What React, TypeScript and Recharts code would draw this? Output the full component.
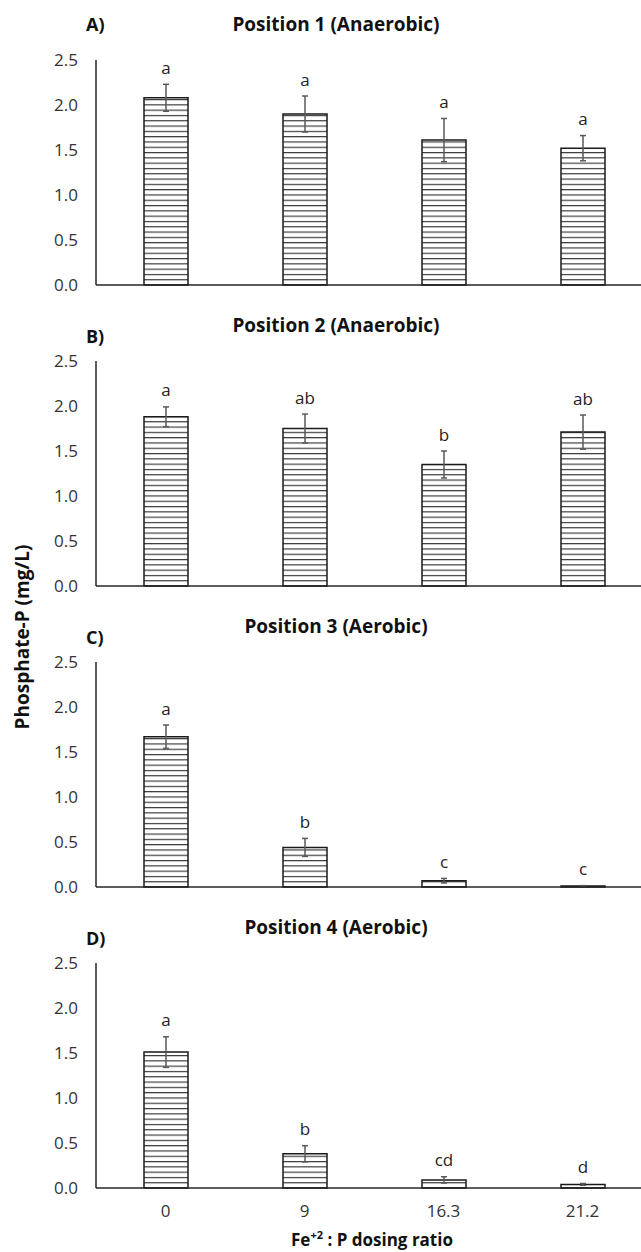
import { BarChart, Bar, XAxis, YAxis, ErrorBar, LabelList } from "recharts"

const categories = ["0", "9", "16.3", "21.2"]
const panelTitles = [
  "Position 1 (Anaerobic)",
  "Position 2 (Anaerobic)",
  "Position 3 (Aerobic)",
  "Position 4 (Aerobic)",
]
const panelLetters = ["A)", "B)", "C)", "D)"]

const pos1Mean = [2.08, 1.9, 1.61, 1.52]
const pos1Err = [0.15, 0.2, 0.24, 0.14]
const pos1Sig = ["a", "a", "a", "a"]

const pos2Mean = [1.88, 1.75, 1.35, 1.71]
const pos2Err = [0.11, 0.16, 0.15, 0.19]
const pos2Sig = ["a", "ab", "b", "ab"]

const pos3Mean = [1.67, 0.44, 0.07, 0.01]
const pos3Err = [0.13, 0.1, 0.025, 0.005]
const pos3Sig = ["a", "b", "c", "c"]

const pos4Mean = [1.51, 0.38, 0.09, 0.04]
const pos4Err = [0.17, 0.09, 0.035, 0.01]
const pos4Sig = ["a", "b", "cd", "d"]

const yTicks = [0, 0.5, 1, 1.5, 2, 2.5]

const PLOT_H = 225
const PLOT_TOPS = [60, 361, 662, 963]
const Y_MAX = 2.5
const FONT = "'Open Sans', sans-serif"
const INK = "#262626"

function Panel({ idx, mean, err, sig, last }: any) {
  const data = categories.map((c, i) => ({ name: c, value: mean[i], err: err[i], sig: sig[i] }))
  const top = PLOT_TOPS[idx]
  const mTop = 14
  const mBottom = 14
  const xH = last ? 40 : 2
  const pid = `hstripe-${idx}`

  const renderSig = (props: any) => {
    const { x, y, width, index, value } = props
    const ty = y - (err[index] * PLOT_H) / Y_MAX - 17
    return (
      <text
        x={x + width / 2}
        y={ty}
        textAnchor="middle"
        dominantBaseline="central"
        fontSize={17}
        fill="#222"
        fontFamily={FONT}
      >
        {value}
      </text>
    )
  }

  return (
    <div style={{ position: "absolute", left: 0, top: top - mTop }}>
      <BarChart
        width={660}
        height={mTop + PLOT_H + xH + mBottom}
        data={data}
        margin={{ top: mTop, right: 8, bottom: mBottom, left: 0 }}
        style={{ fontFamily: FONT }}
      >
        <defs>
          <pattern id={pid} width="8" height="5.3" patternUnits="userSpaceOnUse">
            <rect width="8" height="5.3" fill="#fff" />
            <line x1="0" y1="0.6" x2="8" y2="0.6" stroke="#2a2a2a" strokeWidth="1.1" />
          </pattern>
        </defs>
        <XAxis
          dataKey="name"
          height={xH}
          axisLine={{ stroke: INK, strokeWidth: 1.5 }}
          tickLine={false}
          tickSize={0}
          tickMargin={17}
          tick={last ? { fill: "#333", fontSize: 17 } : false}
        />
        <YAxis
          width={96}
          domain={[0, Y_MAX]}
          ticks={yTicks}
          interval={0}
          tickFormatter={(v: number) => v.toFixed(1)}
          axisLine={{ stroke: INK, strokeWidth: 1.5 }}
          tickLine={false}
          tickSize={0}
          tickMargin={18}
          tick={{ fill: "#333", fontSize: 17 }}
        />
        <Bar
          dataKey="value"
          barSize={44}
          fill={`url(#${pid})`}
          stroke="#1a1a1a"
          strokeWidth={1.5}
          isAnimationActive={false}
        >
          <ErrorBar dataKey="err" direction="y" width={3} stroke="#595959" strokeWidth={1.5} />
          <LabelList dataKey="sig" content={renderSig} />
        </Bar>
      </BarChart>
      <div
        style={{
          position: "absolute",
          left: 336,
          top: mTop - 36,
          transform: "translate(-50%, -50%)",
          fontFamily: FONT,
          fontWeight: 700,
          fontSize: 19,
          whiteSpace: "nowrap",
          color: "#111",
        }}
      >
        {panelTitles[idx]}
      </div>
      <div
        style={{
          position: "absolute",
          left: 86,
          top: mTop + (idx === 0 ? -36 : -25),
          transform: "translateY(-50%)",
          fontFamily: FONT,
          fontWeight: 700,
          fontSize: 18,
          color: "#111",
        }}
      >
        {panelLetters[idx]}
      </div>
    </div>
  )
}

export default function App() {
  return (
    <div
      style={{
        position: "absolute",
        left: 0,
        top: 0,
        width: 641,
        height: 1252,
        overflow: "hidden",
        background: "#fff",
      }}
    >
      <Panel idx={0} mean={pos1Mean} err={pos1Err} sig={pos1Sig} />
      <Panel idx={1} mean={pos2Mean} err={pos2Err} sig={pos2Sig} />
      <Panel idx={2} mean={pos3Mean} err={pos3Err} sig={pos3Sig} />
      <Panel idx={3} mean={pos4Mean} err={pos4Err} sig={pos4Sig} last />
      <div
        style={{
          position: "absolute",
          left: 22,
          top: 637,
          transform: "translate(-50%, -50%) rotate(-90deg)",
          fontFamily: FONT,
          fontWeight: 700,
          fontSize: 19,
          whiteSpace: "nowrap",
          color: "#111",
        }}
      >
        Phosphate-P (mg/L)
      </div>
      <div
        style={{
          position: "absolute",
          left: 372,
          top: 1240,
          transform: "translate(-50%, -50%)",
          fontFamily: FONT,
          fontWeight: 700,
          fontSize: 17,
          lineHeight: "20px",
          whiteSpace: "nowrap",
          color: "#111",
        }}
      >
        Fe<sup style={{ fontSize: 11, lineHeight: 0 }}>+2</sup> : P dosing ratio
      </div>
    </div>
  )
}
